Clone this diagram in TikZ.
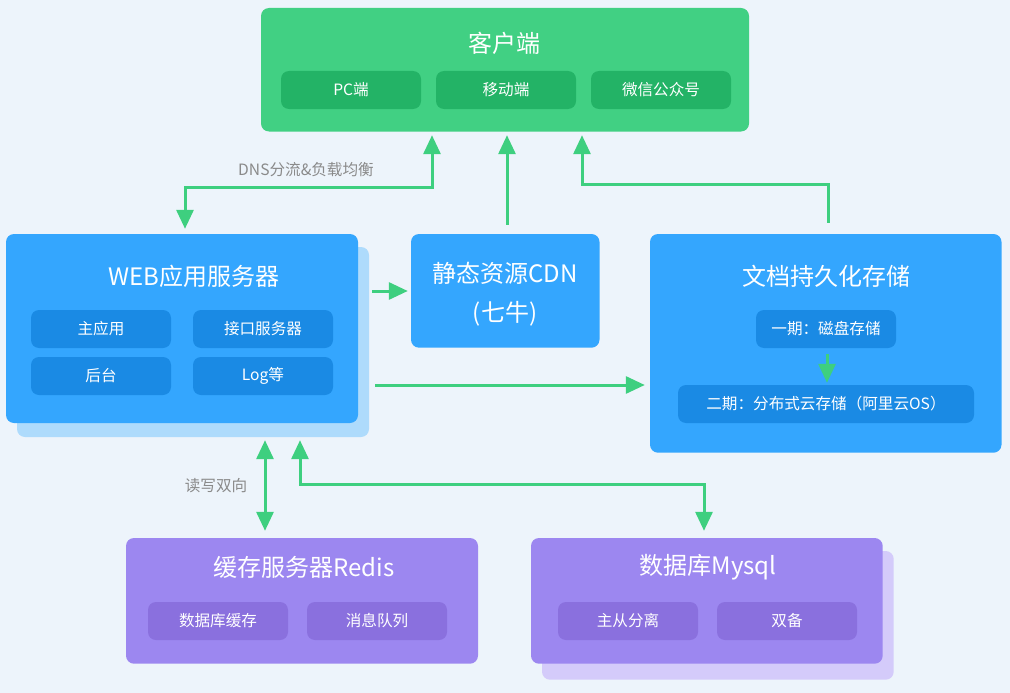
\documentclass[tikz,border=0pt]{standalone}
\usepackage{fontspec}
\setmainfont{Noto Sans CJK SC}
\usetikzlibrary{arrows.meta,calc}
\definecolor{bgc}{HTML}{EDF4FB}
\definecolor{gmain}{HTML}{41D083}
\definecolor{gsub}{HTML}{23B366}
\definecolor{bmain}{HTML}{34A6FE}
\definecolor{bsub}{HTML}{1A8AE4}
\definecolor{bshadow}{HTML}{AEDBFC}
\definecolor{pmain}{HTML}{9C87F0}
\definecolor{psub}{HTML}{8A70DE}
\definecolor{pshadow}{HTML}{D4CBFA}
\definecolor{agreen}{HTML}{3ECF7F}
\definecolor{lblgray}{HTML}{8A8A8A}
\tikzset{
  box/.style={draw=none, rounded corners=8pt, inner sep=0pt},
  subbox/.style={draw=none, rounded corners=8pt, inner sep=0pt, minimum height=38pt, text=white, font=\fontsize{15.6}{18}\selectfont},
  titletext/.style={text=white, inner sep=0pt, font=\fontsize{24}{28}\selectfont},
  lbl/.style={text=lblgray, inner sep=0pt, font=\fontsize{15.6}{18}\selectfont},
  conn/.style={draw=agreen, line width=3pt, -{Triangle[width=17pt,length=19pt]}},
  conn2/.style={draw=agreen, line width=3pt, {Triangle[width=17pt,length=19pt]}-{Triangle[width=17pt,length=19pt]}}
}
\begin{document}
\begin{tikzpicture}[x=1pt,y=-1pt]
\fill[bgc] (0,0) rectangle (1010,693);
\useasboundingbox (0,0) rectangle (1010,693);

% client
\node[box, fill=gmain, minimum width=488pt, minimum height=123.5pt] (client) at (505,69.75) {};
\node[titletext] (clientT) at (504,43) {客户端};
\node[subbox, fill=gsub, minimum width=140pt] (pc) at (351,90) {PC端};
\node[subbox, fill=gsub, minimum width=140pt] (mobile) at (506,90) {移动端};
\node[subbox, fill=gsub, minimum width=140pt] (wechat) at (661,90) {微信公众号};

% web
\node[box, fill=bshadow, minimum width=352pt, minimum height=190pt] (webS) at (193,342) {};
\node[box, fill=bmain, minimum width=352pt, minimum height=189pt] (web) at (182,328.5) {};
\node[titletext] (webT) at (194,276) {WEB应用服务器};
\node[subbox, fill=bsub, minimum width=140pt] (mainapp) at (101,329) {主应用};
\node[subbox, fill=bsub, minimum width=140pt] (api) at (263,329) {接口服务器};
\node[subbox, fill=bsub, minimum width=140pt] (admin) at (101,376) {后台};
\node[subbox, fill=bsub, minimum width=140pt] (logs) at (263,376) {Log等};

% cdn
\node[box, fill=bmain, minimum width=188.5pt, minimum height=113.7pt] (cdn) at (505.25,290.85) {};
\node[titletext, align=center, font=\fontsize{24}{39}\selectfont] (cdnT) at (505,294.5) {静态资源CDN\\(七牛)};

% doc
\node[box, fill=bmain, minimum width=351.5pt, minimum height=218.7pt] (doc) at (825.75,343.35) {};
\node[titletext] (docT) at (826,276) {文档持久化存储};
\node[subbox, fill=bsub, minimum width=140pt] (phase1) at (826,329) {一期：磁盘存储};
\node[subbox, fill=bsub, minimum width=296pt] (phase2) at (826,404) {二期：分布式云存储（阿里云OS）};

% redis
\node[box, fill=pmain, minimum width=352pt, minimum height=125.7pt] (redis) at (302,600.85) {};
\node[titletext] (redisT) at (304,567) {缓存服务器Redis};
\node[subbox, fill=psub, minimum width=140pt] (dbcache) at (218,621) {数据库缓存};
\node[subbox, fill=psub, minimum width=140pt] (mq) at (377,621) {消息队列};

% mysql
\node[box, fill=pshadow, minimum width=351.7pt, minimum height=128.7pt] (mysqlS) at (717.85,615.35) {};
\node[box, fill=pmain, minimum width=351.7pt, minimum height=125.7pt] (mysql) at (706.85,600.85) {};
\node[titletext] (mysqlT) at (708,567) {数据库Mysql};
\node[subbox, fill=psub, minimum width=140pt] (ms) at (628,621) {主从分离};
\node[subbox, fill=psub, minimum width=140pt] (dual) at (787,621) {双备};

% helper coordinates
\coordinate (dnsL) at (185,187);
\coordinate (dnsR) at (432,187);
\coordinate (cdnX) at (507,0);
\coordinate (docA) at (828,184);
\coordinate (docB) at (582,184);
\coordinate (rowCdn) at (0,291);
\coordinate (rowDoc) at (0,385);
\coordinate (redisX) at (265,0);
\coordinate (myA) at (300,484);
\coordinate (myB) at (704,484);
\coordinate (innerX) at (827,0);

% connectors
\draw[conn2, shorten <=5pt, shorten >=3.5pt] (web.north -| dnsL) -- (dnsL) -- (dnsR) -- (client.south -| dnsR);
\draw[conn, shorten <=9pt, shorten >=3.5pt] (cdn.north -| cdnX) -- (client.south -| cdnX);
\draw[conn, shorten <=11pt, shorten >=3.5pt] (doc.north -| docA) -- (docA) -- (docB) -- (client.south -| docB);
\draw[conn, shorten <=3pt, shorten >=3pt] (webS.east |- rowCdn) -- (cdn.west |- rowCdn);
\draw[conn, shorten <=6pt, shorten >=5pt] (webS.east |- rowDoc) -- (doc.west |- rowDoc);
\draw[conn2, shorten <=3pt, shorten >=7pt] (webS.south -| redisX) -- (redis.north -| redisX);
\draw[conn2, shorten <=3pt, shorten >=7pt] (webS.south -| myA) -- (myA) -- (myB) -- (mysql.north -| myB);
\draw[conn, shorten <=6pt, shorten >=2pt] (phase1.south -| innerX) -- (phase2.north -| innerX);

% labels
\node[lbl] (dnsLbl) at (306,170) {DNS分流\&负载均衡};
\node[lbl] (rwLbl) at (216,486) {读写双向};
\end{tikzpicture}
\end{document}
